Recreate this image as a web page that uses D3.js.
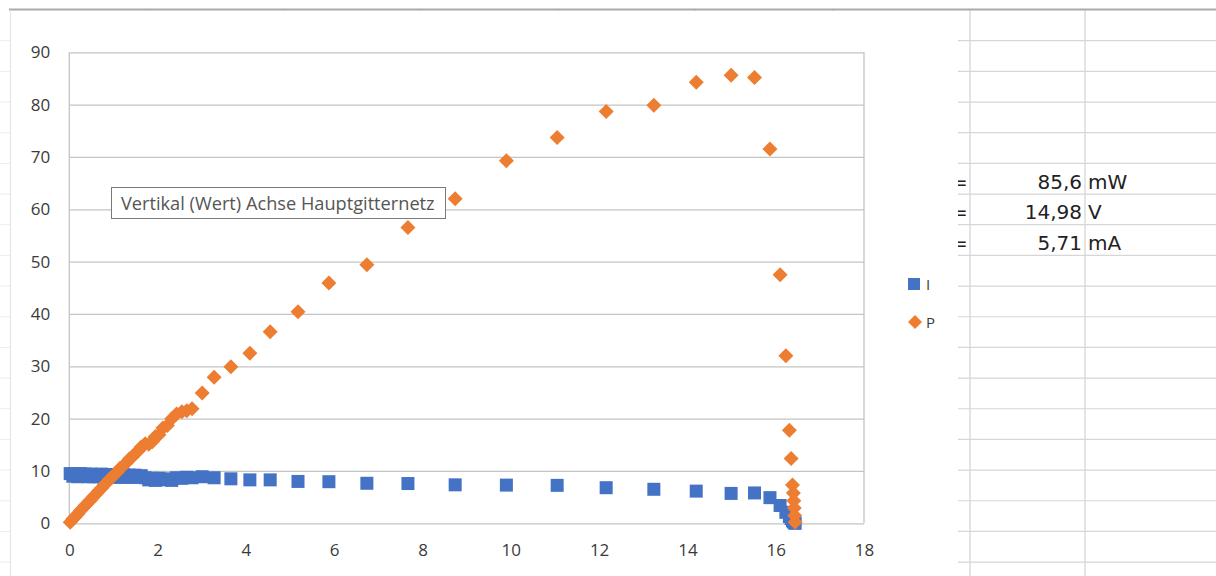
<!DOCTYPE html>
<html><head><meta charset="utf-8">
<script src="https://cdn.jsdelivr.net/npm/d3@7"></script>
<style>html,body{margin:0;padding:0;background:#fff;overflow:hidden}</style>
</head><body><svg id="c" width="1216" height="576"></svg>
<script>
// ---- data ----
const voltage = [0.02,0.08,0.13,0.19,0.25,0.31,0.37,0.43,0.49,0.55,
  0.61,0.67,0.73,0.79,0.85,0.91,0.97,1.03,1.09,1.15,
  1.22,1.29,1.36,1.42,1.49,1.56,1.63,1.72,1.80,1.88,
  1.95,2.03,2.12,2.22,2.32,2.43,2.55,2.66,2.78,3.01,
  3.28,3.66,4.09,4.55,5.18,5.88,6.74,7.67,8.74,9.90,
  11.05,12.16,13.24,14.20,14.99,15.52,15.87,16.10,16.23,16.31,
  16.35,16.38,16.40,16.41,16.42,16.43,16.44];
const currentI = [9.5,9.0,9.4,8.9,9.5,9.0,9.4,8.9,9.4,8.9,
  9.3,8.9,9.4,8.8,9.3,8.9,9.3,8.8,9.2,8.8,
  9.3,8.8,9.2,8.8,9.2,8.8,9.1,8.7,8.3,8.6,
  8.2,8.6,8.3,8.5,8.2,8.7,8.6,8.8,8.7,8.9,
  8.7,8.5,8.3,8.3,8.0,7.95,7.65,7.6,7.35,7.3,
  7.25,6.8,6.5,6.15,5.71,5.8,4.9,3.4,2.1,1.3,
  0.9,0.5,0.35,0.26,0.18,0.09,0.0];
const powerP = [0.2,0.8,1.2,1.8,2.4,2.9,3.5,4.0,4.5,5.1,
  5.6,6.2,6.7,7.3,7.8,8.4,8.8,9.4,9.8,10.5,
  11.0,11.5,12.3,12.6,13.3,13.8,14.6,15.2,15.1,15.6,
  16.6,16.9,18.2,18.7,20.0,20.9,21.3,21.5,21.9,24.9,
  27.9,29.9,32.5,36.6,40.4,45.9,49.4,56.5,62.0,69.3,
  73.7,78.7,79.9,84.3,85.6,85.2,71.5,47.5,32.0,17.8,
  12.4,7.3,5.8,4.3,2.9,1.5,0.2];
const xTicks = [0,2,4,6,8,10,12,14,16,18];
const yTicks = [0,10,20,30,40,50,60,70,80,90];
const seriesNames = ["I","P"];
const sheetValues = ["85,6","14,98","5,71"];
const sheetUnits = ["mW","V","mA"];
const tooltipText = "Vertikal (Wert) Achse Hauptgitternetz";

// ---- drawing ----
const svg = d3.select("#c");
const light = "#d6d6d6";

// spreadsheet background
const rowY = d3.range(18).map(k => 40.7 + 30.67 * k);
rowY.forEach(yy => {
  svg.append("line").attr("x1", 958).attr("x2", 1216).attr("y1", yy).attr("y2", yy)
    .attr("stroke", light).attr("stroke-width", 1.2);
  svg.append("line").attr("x1", 0).attr("x2", 10).attr("y1", yy).attr("y2", yy)
    .attr("stroke", "#ececec").attr("stroke-width", 1);
});
[146, 284, 421, 558, 695, 833].forEach(xx => {
  svg.append("line").attr("x1", xx).attr("x2", xx).attr("y1", 10).attr("y2", 30)
    .attr("stroke", light).attr("stroke-width", 1.2);
});
[970, 1085].forEach(xx => {
  svg.append("line").attr("x1", xx).attr("x2", xx).attr("y1", 10).attr("y2", 576)
    .attr("stroke", light).attr("stroke-width", 1.3);
});
svg.append("line").attr("x1", 9).attr("x2", 1216).attr("y1", 9.5).attr("y2", 9.5)
  .attr("stroke", "#a9a9a9").attr("stroke-width", 2);
svg.append("line").attr("x1", 10.5).attr("x2", 10.5).attr("y1", 10).attr("y2", 576)
  .attr("stroke", "#e2e2e2").attr("stroke-width", 1);

// sheet cells text
const cellFont = "'DejaVu Sans', sans-serif";
sheetValues.forEach((v, i) => {
  const base = 188.7 + 30.67 * i;
  svg.append("text").attr("x", 951).attr("y", base).text("=")
    .attr("font-family", cellFont).attr("font-size", 20).attr("fill", "#222");
  svg.append("text").attr("x", 1082).attr("y", base).attr("text-anchor", "end").text(v)
    .attr("font-family", cellFont).attr("font-size", 20).attr("fill", "#222");
  svg.append("text").attr("x", 1088).attr("y", base).text(sheetUnits[i])
    .attr("font-family", cellFont).attr("font-size", 20).attr("fill", "#222");
});
// white mask for chart area over the partial "=" signs
svg.append("rect").attr("x", 11).attr("y", 11).attr("width", 947).attr("height", 565).attr("fill", "#fff");

// scales
const x = d3.scaleLinear().domain([0, 18]).range([69.3, 864]);
const y = d3.scaleLinear().domain([0, 90]).range([523.3, 52.3]);
const chartFont = "'Open Sans', Lato, sans-serif";
const labelColor = "#3a3a3a";
const gridStroke = "#c4c4c4";

// gridlines + y labels
const gy = svg.append("g").attr("transform", `translate(${x(0)},0)`)
  .call(d3.axisLeft(y).tickValues(yTicks).tickSize(-(x(18) - x(0))).tickPadding(19));
gy.select(".domain").remove();
gy.selectAll(".tick line").attr("stroke", gridStroke).attr("stroke-width", 1.3);
gy.selectAll(".tick text").attr("font-family", chartFont).attr("font-size", 17).attr("fill", labelColor);

// plot borders left/right
[x(0), x(18)].forEach(xx => {
  svg.append("line").attr("x1", xx).attr("x2", xx).attr("y1", y(90)).attr("y2", y(0))
    .attr("stroke", gridStroke).attr("stroke-width", 1.3);
});

// x axis labels
const gx = svg.append("g").attr("transform", `translate(0,${y(0)})`)
  .call(d3.axisBottom(x).tickValues(xTicks).tickSize(0).tickPadding(21));
gx.select(".domain").remove();
gx.selectAll(".tick text").attr("font-family", chartFont).attr("font-size", 17).attr("fill", labelColor);

const blue = "#4472C4", orange = "#ED7D31";
const pts = voltage.map((u, i) => ({u, i: currentI[i], p: powerP[i]}));
const sq = 13, dh = 7.5;
// series I: squares
svg.append("g").selectAll("rect").data(pts).join("rect")
  .attr("x", d => x(d.u) - sq / 2).attr("y", d => y(d.i) - sq / 2)
  .attr("width", sq).attr("height", sq).attr("fill", blue);
// series P: diamonds
const diamond = (cx, cy, h) => `M${cx},${cy - h}L${cx + h},${cy}L${cx},${cy + h}L${cx - h},${cy}Z`;
svg.append("g").selectAll("path").data(pts).join("path")
  .attr("d", d => diamond(x(d.u), y(d.p), dh)).attr("fill", orange);

// legend
svg.append("rect").attr("x", 908).attr("y", 278).attr("width", 12).attr("height", 12).attr("fill", blue);
svg.append("text").attr("x", 926).attr("y", 290).text(seriesNames[0])
  .attr("font-family", chartFont).attr("font-size", 15).attr("fill", labelColor);
svg.append("path").attr("d", diamond(915, 322, 7)).attr("fill", orange);
svg.append("text").attr("x", 926).attr("y", 328).text(seriesNames[1])
  .attr("font-family", chartFont).attr("font-size", 15).attr("fill", labelColor);

// tooltip
svg.append("rect").attr("x", 111.5).attr("y", 187.5).attr("width", 334).attr("height", 31)
  .attr("fill", "#fff").attr("stroke", "#7a7a7a").attr("stroke-width", 1);
const tt = svg.append("text").attr("x", 121).attr("y", 209.5).text(tooltipText)
  .attr("font-family", chartFont).attr("font-size", 16).attr("fill", "#555");
const w = tt.node().getComputedTextLength();
tt.attr("font-size", 16 * 314 / w);
</script>
</body></html>
